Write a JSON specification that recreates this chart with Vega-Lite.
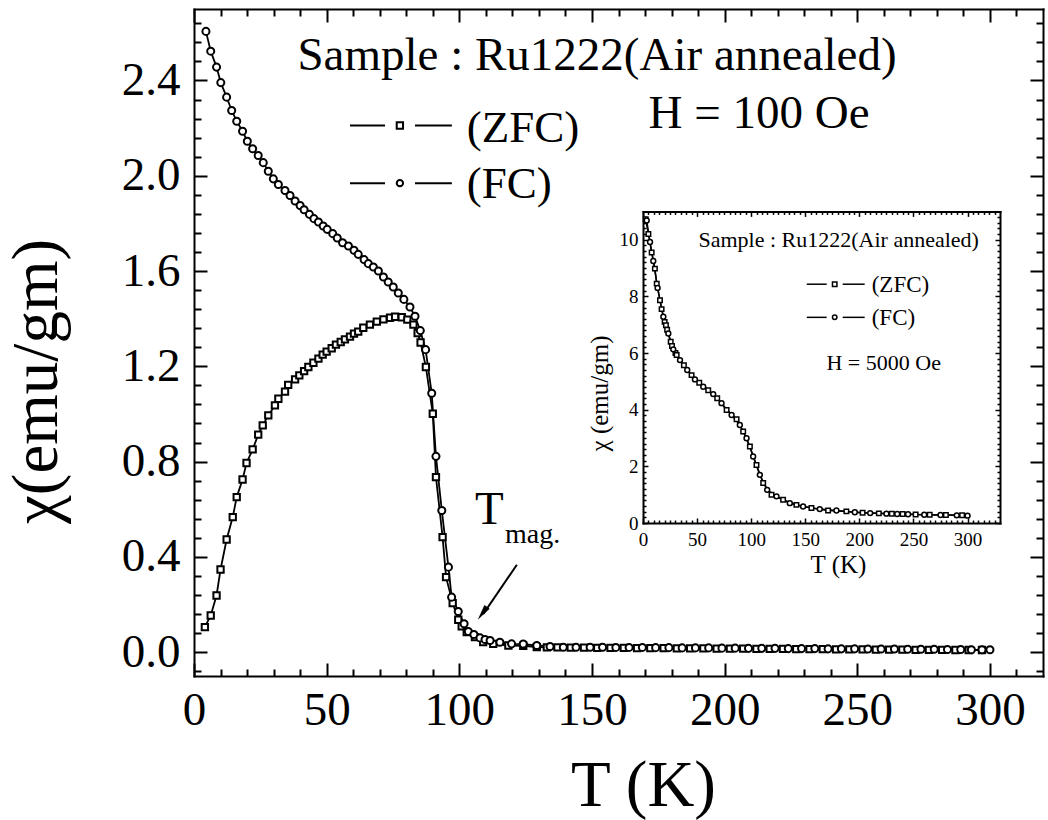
{
"$schema": "https://vega.github.io/schema/vega-lite/v6.json",
"width": 849, "height": 667,
"autosize": {"type": "none"},
"padding": {"left": 194, "top": 9, "right": 5, "bottom": 144},
"background": "white",
"config": {"view": {"stroke": null}, "axis": {"grid": false}, "font": "Liberation Serif"},
"datasets": {
"one": [{}],
"main": [
{"T":4.1,"chi":0.105,"s":"ZFC"},{"T":6.3,"chi":0.154,"s":"ZFC"},{"T":8.5,"chi":0.238,"s":"ZFC"},{"T":10.0,"chi":0.347,"s":"ZFC"},{"T":12.3,"chi":0.473,"s":"ZFC"},{"T":14.6,"chi":0.567,"s":"ZFC"},{"T":16.1,"chi":0.651,"s":"ZFC"},{"T":18.3,"chi":0.725,"s":"ZFC"},{"T":19.8,"chi":0.794,"s":"ZFC"},{"T":22.1,"chi":0.851,"s":"ZFC"},{"T":24.2,"chi":0.913,"s":"ZFC"},{"T":25.9,"chi":0.952,"s":"ZFC"},{"T":28.0,"chi":0.994,"s":"ZFC"},{"T":30.5,"chi":1.036,"s":"ZFC"},{"T":31.8,"chi":1.064,"s":"ZFC"},{"T":34.3,"chi":1.094,"s":"ZFC"},{"T":35.5,"chi":1.122,"s":"ZFC"},{"T":38.1,"chi":1.145,"s":"ZFC"},{"T":39.7,"chi":1.162,"s":"ZFC"},{"T":41.5,"chi":1.180,"s":"ZFC"},{"T":43.1,"chi":1.197,"s":"ZFC"},{"T":45.0,"chi":1.215,"s":"ZFC"},{"T":46.9,"chi":1.232,"s":"ZFC"},{"T":48.5,"chi":1.249,"s":"ZFC"},{"T":50.0,"chi":1.262,"s":"ZFC"},{"T":51.9,"chi":1.276,"s":"ZFC"},{"T":53.5,"chi":1.291,"s":"ZFC"},{"T":55.3,"chi":1.302,"s":"ZFC"},{"T":56.9,"chi":1.313,"s":"ZFC"},{"T":58.8,"chi":1.325,"s":"ZFC"},{"T":60.3,"chi":1.337,"s":"ZFC"},{"T":61.9,"chi":1.346,"s":"ZFC"},{"T":63.8,"chi":1.362,"s":"ZFC"},{"T":66.3,"chi":1.375,"s":"ZFC"},{"T":68.9,"chi":1.388,"s":"ZFC"},{"T":71.4,"chi":1.397,"s":"ZFC"},{"T":73.9,"chi":1.404,"s":"ZFC"},{"T":75.8,"chi":1.408,"s":"ZFC"},{"T":78.3,"chi":1.406,"s":"ZFC"},{"T":80.4,"chi":1.396,"s":"ZFC"},{"T":82.7,"chi":1.375,"s":"ZFC"},{"T":84.3,"chi":1.340,"s":"ZFC"},{"T":85.4,"chi":1.300,"s":"ZFC"},{"T":87.4,"chi":1.197,"s":"ZFC"},{"T":90.0,"chi":1.001,"s":"ZFC"},{"T":91.2,"chi":0.735,"s":"ZFC"},{"T":93.7,"chi":0.483,"s":"ZFC"},{"T":95.0,"chi":0.315,"s":"ZFC"},{"T":97.5,"chi":0.206,"s":"ZFC"},{"T":99.6,"chi":0.136,"s":"ZFC"},{"T":100.9,"chi":0.108,"s":"ZFC"},{"T":102.8,"chi":0.084,"s":"ZFC"},{"T":105.9,"chi":0.063,"s":"ZFC"},{"T":109.0,"chi":0.042,"s":"ZFC"},{"T":112.8,"chi":0.035,"s":"ZFC"},{"T":118.5,"chi":0.028,"s":"ZFC"},{"T":124.1,"chi":0.027,"s":"ZFC"},{"T":129.2,"chi":0.021,"s":"ZFC"},{"T":133,"chi":0.020,"s":"ZFC"},{"T":137,"chi":0.020,"s":"ZFC"},{"T":142,"chi":0.019,"s":"ZFC"},{"T":147,"chi":0.019,"s":"ZFC"},{"T":152,"chi":0.018,"s":"ZFC"},{"T":157,"chi":0.018,"s":"ZFC"},{"T":162,"chi":0.018,"s":"ZFC"},{"T":167,"chi":0.017,"s":"ZFC"},{"T":172,"chi":0.017,"s":"ZFC"},{"T":177,"chi":0.017,"s":"ZFC"},{"T":182,"chi":0.016,"s":"ZFC"},{"T":187,"chi":0.016,"s":"ZFC"},{"T":192,"chi":0.016,"s":"ZFC"},{"T":197,"chi":0.015,"s":"ZFC"},{"T":202,"chi":0.015,"s":"ZFC"},{"T":207,"chi":0.015,"s":"ZFC"},{"T":212,"chi":0.014,"s":"ZFC"},{"T":217,"chi":0.014,"s":"ZFC"},{"T":222,"chi":0.014,"s":"ZFC"},{"T":227,"chi":0.013,"s":"ZFC"},{"T":232,"chi":0.013,"s":"ZFC"},{"T":237,"chi":0.013,"s":"ZFC"},{"T":242,"chi":0.012,"s":"ZFC"},{"T":247,"chi":0.012,"s":"ZFC"},{"T":252,"chi":0.012,"s":"ZFC"},{"T":257,"chi":0.011,"s":"ZFC"},{"T":262,"chi":0.011,"s":"ZFC"},{"T":267,"chi":0.011,"s":"ZFC"},{"T":272,"chi":0.010,"s":"ZFC"},{"T":277,"chi":0.010,"s":"ZFC"},{"T":282,"chi":0.010,"s":"ZFC"},{"T":287,"chi":0.009,"s":"ZFC"},{"T":292,"chi":0.009,"s":"ZFC"},{"T":297,"chi":0.009,"s":"ZFC"},
{"T":4.5,"chi":2.606,"s":"FC"},{"T":6.3,"chi":2.523,"s":"FC"},{"T":8.5,"chi":2.456,"s":"FC"},{"T":10.1,"chi":2.391,"s":"FC"},{"T":12.3,"chi":2.330,"s":"FC"},{"T":14.2,"chi":2.274,"s":"FC"},{"T":16.1,"chi":2.229,"s":"FC"},{"T":18.3,"chi":2.187,"s":"FC"},{"T":20.1,"chi":2.145,"s":"FC"},{"T":22.1,"chi":2.113,"s":"FC"},{"T":24.2,"chi":2.085,"s":"FC"},{"T":26.1,"chi":2.055,"s":"FC"},{"T":28.0,"chi":2.019,"s":"FC"},{"T":29.9,"chi":1.987,"s":"FC"},{"T":31.8,"chi":1.963,"s":"FC"},{"T":34.3,"chi":1.938,"s":"FC"},{"T":36.2,"chi":1.917,"s":"FC"},{"T":38.1,"chi":1.894,"s":"FC"},{"T":40.0,"chi":1.875,"s":"FC"},{"T":41.5,"chi":1.857,"s":"FC"},{"T":43.5,"chi":1.838,"s":"FC"},{"T":45.2,"chi":1.820,"s":"FC"},{"T":46.9,"chi":1.806,"s":"FC"},{"T":48.7,"chi":1.789,"s":"FC"},{"T":50.2,"chi":1.775,"s":"FC"},{"T":52.3,"chi":1.757,"s":"FC"},{"T":54.0,"chi":1.739,"s":"FC"},{"T":56.0,"chi":1.719,"s":"FC"},{"T":58.2,"chi":1.705,"s":"FC"},{"T":60.3,"chi":1.687,"s":"FC"},{"T":61.9,"chi":1.670,"s":"FC"},{"T":64.1,"chi":1.648,"s":"FC"},{"T":65.7,"chi":1.631,"s":"FC"},{"T":67.6,"chi":1.617,"s":"FC"},{"T":69.5,"chi":1.600,"s":"FC"},{"T":71.4,"chi":1.575,"s":"FC"},{"T":73.2,"chi":1.554,"s":"FC"},{"T":75.1,"chi":1.533,"s":"FC"},{"T":77.0,"chi":1.508,"s":"FC"},{"T":79.1,"chi":1.481,"s":"FC"},{"T":81.4,"chi":1.449,"s":"FC"},{"T":83.3,"chi":1.410,"s":"FC"},{"T":85.3,"chi":1.350,"s":"FC"},{"T":87.3,"chi":1.270,"s":"FC"},{"T":89.6,"chi":1.087,"s":"FC"},{"T":91.2,"chi":0.822,"s":"FC"},{"T":93.4,"chi":0.595,"s":"FC"},{"T":95.9,"chi":0.357,"s":"FC"},{"T":97.1,"chi":0.231,"s":"FC"},{"T":99.6,"chi":0.171,"s":"FC"},{"T":101.8,"chi":0.119,"s":"FC"},{"T":103.4,"chi":0.087,"s":"FC"},{"T":105.5,"chi":0.074,"s":"FC"},{"T":107.8,"chi":0.060,"s":"FC"},{"T":109.7,"chi":0.053,"s":"FC"},{"T":111.6,"chi":0.049,"s":"FC"},{"T":115.3,"chi":0.042,"s":"FC"},{"T":119.7,"chi":0.035,"s":"FC"},{"T":124.1,"chi":0.034,"s":"FC"},{"T":129.2,"chi":0.028,"s":"FC"},{"T":134.2,"chi":0.024,"s":"FC"},{"T":139.2,"chi":0.021,"s":"FC"},{"T":144.0,"chi":0.021,"s":"FC"},{"T":149.3,"chi":0.021,"s":"FC"},{"T":154,"chi":0.021,"s":"FC"},{"T":159,"chi":0.020,"s":"FC"},{"T":164,"chi":0.020,"s":"FC"},{"T":169,"chi":0.020,"s":"FC"},{"T":174,"chi":0.019,"s":"FC"},{"T":179,"chi":0.019,"s":"FC"},{"T":184,"chi":0.018,"s":"FC"},{"T":189,"chi":0.018,"s":"FC"},{"T":194,"chi":0.018,"s":"FC"},{"T":199,"chi":0.017,"s":"FC"},{"T":204,"chi":0.017,"s":"FC"},{"T":209,"chi":0.016,"s":"FC"},{"T":214,"chi":0.016,"s":"FC"},{"T":219,"chi":0.016,"s":"FC"},{"T":224,"chi":0.015,"s":"FC"},{"T":229,"chi":0.015,"s":"FC"},{"T":234,"chi":0.015,"s":"FC"},{"T":239,"chi":0.014,"s":"FC"},{"T":244,"chi":0.014,"s":"FC"},{"T":249,"chi":0.014,"s":"FC"},{"T":254,"chi":0.013,"s":"FC"},{"T":259,"chi":0.013,"s":"FC"},{"T":264,"chi":0.013,"s":"FC"},{"T":269,"chi":0.012,"s":"FC"},{"T":274,"chi":0.012,"s":"FC"},{"T":279,"chi":0.012,"s":"FC"},{"T":284,"chi":0.011,"s":"FC"},{"T":289,"chi":0.011,"s":"FC"},{"T":293,"chi":0.010,"s":"FC"},{"T":297,"chi":0.010,"s":"FC"},{"T":300,"chi":0.010,"s":"FC"}
],
"inset": [
{"T":2.5,"chi":10.72,"s":"ZFC"},{"T":5.0,"chi":10.2,"s":"ZFC"},{"T":8.0,"chi":9.55,"s":"ZFC"},{"T":11.0,"chi":8.98,"s":"ZFC"},{"T":12.7,"chi":8.45,"s":"ZFC"},{"T":15.7,"chi":7.86,"s":"ZFC"},{"T":17.2,"chi":7.55,"s":"ZFC"},{"T":20.0,"chi":7.10,"s":"ZFC"},{"T":21.2,"chi":6.98,"s":"ZFC"},{"T":22.3,"chi":6.82,"s":"ZFC"},{"T":25.6,"chi":6.40,"s":"ZFC"},{"T":26.8,"chi":6.25,"s":"ZFC"},{"T":30.0,"chi":6.00,"s":"ZFC"},{"T":31.1,"chi":5.93,"s":"ZFC"},{"T":37.8,"chi":5.57,"s":"ZFC"},{"T":44.9,"chi":5.22,"s":"ZFC"},{"T":52.0,"chi":4.95,"s":"ZFC"},{"T":60.3,"chi":4.69,"s":"ZFC"},{"T":68.6,"chi":4.40,"s":"ZFC"},{"T":77.3,"chi":3.99,"s":"ZFC"},{"T":86.5,"chi":3.66,"s":"ZFC"},{"T":92.6,"chi":3.23,"s":"ZFC"},{"T":98.8,"chi":2.70,"s":"ZFC"},{"T":104.9,"chi":2.05,"s":"ZFC"},{"T":111.1,"chi":1.41,"s":"ZFC"},{"T":118.8,"chi":1.00,"s":"ZFC"},{"T":129.5,"chi":0.82,"s":"ZFC"},{"T":141.8,"chi":0.64,"s":"ZFC"},{"T":155.7,"chi":0.53,"s":"ZFC"},{"T":171.1,"chi":0.44,"s":"ZFC"},{"T":188,"chi":0.41,"s":"ZFC"},{"T":203,"chi":0.36,"s":"ZFC"},{"T":218,"chi":0.34,"s":"ZFC"},{"T":230,"chi":0.33,"s":"ZFC"},{"T":240,"chi":0.32,"s":"ZFC"},{"T":252,"chi":0.30,"s":"ZFC"},{"T":265,"chi":0.29,"s":"ZFC"},{"T":280,"chi":0.28,"s":"ZFC"},{"T":295,"chi":0.27,"s":"ZFC"},
{"T":3.4,"chi":10.68,"s":"FC"},{"T":6.5,"chi":9.92,"s":"FC"},{"T":9.5,"chi":9.25,"s":"FC"},{"T":13.5,"chi":8.30,"s":"FC"},{"T":18.8,"chi":7.28,"s":"FC"},{"T":23.4,"chi":6.69,"s":"FC"},{"T":28.0,"chi":6.13,"s":"FC"},{"T":34.2,"chi":5.75,"s":"FC"},{"T":40.9,"chi":5.40,"s":"FC"},{"T":48.0,"chi":5.07,"s":"FC"},{"T":55.7,"chi":4.81,"s":"FC"},{"T":64.9,"chi":4.55,"s":"FC"},{"T":72.6,"chi":4.23,"s":"FC"},{"T":81.9,"chi":3.81,"s":"FC"},{"T":89.5,"chi":3.46,"s":"FC"},{"T":95.7,"chi":2.99,"s":"FC"},{"T":101.8,"chi":2.35,"s":"FC"},{"T":108.0,"chi":1.70,"s":"FC"},{"T":114.8,"chi":1.17,"s":"FC"},{"T":123.4,"chi":0.94,"s":"FC"},{"T":135.7,"chi":0.70,"s":"FC"},{"T":148.0,"chi":0.58,"s":"FC"},{"T":163.4,"chi":0.49,"s":"FC"},{"T":178.8,"chi":0.44,"s":"FC"},{"T":195.8,"chi":0.38,"s":"FC"},{"T":210,"chi":0.35,"s":"FC"},{"T":225,"chi":0.33,"s":"FC"},{"T":235,"chi":0.32,"s":"FC"},{"T":245,"chi":0.31,"s":"FC"},{"T":260,"chi":0.29,"s":"FC"},{"T":275,"chi":0.28,"s":"FC"},{"T":290,"chi":0.27,"s":"FC"},{"T":300,"chi":0.26,"s":"FC"}
]
},
"layer": [
{
"layer": [
{"data": {"name": "main"}, "transform": [{"filter": "datum.s == 'ZFC'"}],
 "mark": {"type": "line", "color": "black", "strokeWidth": 1.8},
 "encoding": {
  "x": {"field": "T", "type": "quantitative", "scale": {"domain": [0, 320], "nice": false, "zero": false},
   "axis": {"orient": "bottom", "values": [0,50,100,150,200,250,300], "format": "d", "tickSize": -13, "tickWidth": 2, "tickColor": "black", "domainWidth": 2, "domainColor": "black", "domainCap": "square", "labelFont": "Liberation Serif", "labelFontSize": 47, "labelColor": "black", "labelPadding": 24.6, "labelFlush": false, "labelOverlap": false, "title": "T (K)", "titleFont": "Liberation Serif", "titleFontSize": 65, "titleFontWeight": "normal", "titleColor": "black", "titleX": 449, "titleY": 129, "titleAlign": "center", "titleBaseline": "alphabetic"}},
  "y": {"field": "chi", "type": "quantitative", "scale": {"domain": [-0.1, 2.7], "nice": false, "zero": false},
   "axis": {"orient": "left", "values": [0,0.4,0.8,1.2,1.6,2.0,2.4], "format": ".1f", "tickSize": -13, "tickWidth": 2, "tickColor": "black", "domainWidth": 2, "domainColor": "black", "domainCap": "square", "labelFont": "Liberation Serif", "labelFontSize": 47, "labelColor": "black", "labelPadding": 27, "labelFlush": false, "labelOverlap": false, "title": "χ(emu/gm)", "titleFont": "Liberation Serif", "titleFontSize": 65, "titleFontWeight": "normal", "titleColor": "black", "titleX": -138, "titleY": 372, "titleAngle": 270, "titleAlign": "center", "titleBaseline": "alphabetic"}}
 }},
{"data": {"name": "main"}, "transform": [{"filter": "datum.s == 'FC'"}],
 "mark": {"type": "line", "color": "black", "strokeWidth": 1.8},
 "encoding": {
  "x": {"field": "T", "type": "quantitative", "scale": {"domain": [0, 320], "nice": false, "zero": false},
   "axis": {"orient": "bottom", "values": [10,20,30,40,60,70,80,90,110,120,130,140,160,170,180,190,210,220,230,240,260,270,280,290,310], "tickSize": -7, "tickWidth": 2, "tickColor": "black", "domain": false, "labels": false, "title": null}},
  "y": {"field": "chi", "type": "quantitative", "scale": {"domain": [-0.1, 2.7], "nice": false, "zero": false},
   "axis": {"orient": "left", "values": [-0.08,0.08,0.16,0.24,0.32,0.48,0.56,0.64,0.72,0.88,0.96,1.04,1.12,1.28,1.36,1.44,1.52,1.68,1.76,1.84,1.92,2.08,2.16,2.24,2.32,2.48,2.56,2.64], "tickSize": -7, "tickWidth": 2, "tickColor": "black", "domain": false, "labels": false, "title": null}}
 }},
{"data": {"name": "main"}, "transform": [{"filter": "datum.s == 'ZFC'"}],
 "mark": {"type": "point", "shape": "square", "size": 40, "filled": true, "fill": "white", "stroke": "black", "strokeWidth": 2, "opacity": 1},
 "encoding": {
  "x": {"field": "T", "type": "quantitative", "scale": {"domain": [0, 320], "nice": false, "zero": false},
   "axis": {"orient": "top", "values": [0,50,100,150,200,250,300], "tickSize": -13, "tickWidth": 2, "tickColor": "black", "domainWidth": 2, "domainColor": "black", "domainCap": "square", "labels": false, "title": null}},
  "y": {"field": "chi", "type": "quantitative", "scale": {"domain": [-0.1, 2.7], "nice": false, "zero": false},
   "axis": {"orient": "right", "values": [0,0.4,0.8,1.2,1.6,2.0,2.4], "tickSize": -13, "tickWidth": 2, "tickColor": "black", "domainWidth": 2, "domainColor": "black", "domainCap": "square", "labels": false, "title": null}}
 }},
{"data": {"name": "main"}, "transform": [{"filter": "datum.s == 'FC'"}],
 "mark": {"type": "point", "shape": "circle", "size": 50, "filled": true, "fill": "white", "stroke": "black", "strokeWidth": 2, "opacity": 1},
 "encoding": {
  "x": {"field": "T", "type": "quantitative", "scale": {"domain": [0, 320], "nice": false, "zero": false},
   "axis": {"orient": "top", "values": [10,20,30,40,60,70,80,90,110,120,130,140,160,170,180,190,210,220,230,240,260,270,280,290,310], "tickSize": -7, "tickWidth": 2, "tickColor": "black", "domain": false, "labels": false, "title": null}},
  "y": {"field": "chi", "type": "quantitative", "scale": {"domain": [-0.1, 2.7], "nice": false, "zero": false},
   "axis": {"orient": "right", "values": [-0.08,0.08,0.16,0.24,0.32,0.48,0.56,0.64,0.72,0.88,0.96,1.04,1.12,1.28,1.36,1.44,1.52,1.68,1.76,1.84,1.92,2.08,2.16,2.24,2.32,2.48,2.56,2.64], "tickSize": -7, "tickWidth": 2, "tickColor": "black", "domain": false, "labels": false, "title": null}}
 }},
{"data": {"name": "one"}, "mark": {"type": "text", "text": "Sample : Ru1222(Air annealed)", "font": "Liberation Serif", "fontSize": 47, "align": "center", "baseline": "alphabetic", "color": "black"},
 "encoding": {"x": {"datum": 151.9, "type": "quantitative", "axis": null}, "y": {"datum": 2.442, "type": "quantitative", "axis": null}}},
{"data": {"name": "one"}, "mark": {"type": "text", "text": "H = 100 Oe", "font": "Liberation Serif", "fontSize": 47, "align": "center", "baseline": "alphabetic", "color": "black"},
 "encoding": {"x": {"datum": 213.0, "type": "quantitative", "axis": null}, "y": {"datum": 2.199, "type": "quantitative", "axis": null}}},
{"data": {"name": "one"}, "mark": {"type": "rule", "color": "black", "strokeWidth": 2},
 "encoding": {"x": {"datum": 58.8, "type": "quantitative", "axis": null}, "x2": {"datum": 72.0}, "y": {"datum": 2.211, "type": "quantitative", "axis": null}}},
{"data": {"name": "one"}, "mark": {"type": "rule", "color": "black", "strokeWidth": 2},
 "encoding": {"x": {"datum": 83.3, "type": "quantitative", "axis": null}, "x2": {"datum": 97.2}, "y": {"datum": 2.211, "type": "quantitative", "axis": null}}},
{"data": {"name": "one"}, "mark": {"type": "point", "shape": "square", "size": 40, "filled": true, "fill": "white", "stroke": "black", "strokeWidth": 2, "opacity": 1},
 "encoding": {"x": {"datum": 77.6, "type": "quantitative", "axis": null}, "y": {"datum": 2.211, "type": "quantitative", "axis": null}}},
{"data": {"name": "one"}, "mark": {"type": "text", "text": "(ZFC)", "font": "Liberation Serif", "fontSize": 45, "align": "left", "baseline": "alphabetic", "color": "black"},
 "encoding": {"x": {"datum": 102.8, "type": "quantitative", "axis": null}, "y": {"datum": 2.141, "type": "quantitative", "axis": null}}},
{"data": {"name": "one"}, "mark": {"type": "rule", "color": "black", "strokeWidth": 2},
 "encoding": {"x": {"datum": 58.8, "type": "quantitative", "axis": null}, "x2": {"datum": 72.0}, "y": {"datum": 1.969, "type": "quantitative", "axis": null}}},
{"data": {"name": "one"}, "mark": {"type": "rule", "color": "black", "strokeWidth": 2},
 "encoding": {"x": {"datum": 83.3, "type": "quantitative", "axis": null}, "x2": {"datum": 97.2}, "y": {"datum": 1.969, "type": "quantitative", "axis": null}}},
{"data": {"name": "one"}, "mark": {"type": "point", "shape": "circle", "size": 40, "filled": true, "fill": "white", "stroke": "black", "strokeWidth": 2, "opacity": 1},
 "encoding": {"x": {"datum": 77.6, "type": "quantitative", "axis": null}, "y": {"datum": 1.969, "type": "quantitative", "axis": null}}},
{"data": {"name": "one"}, "mark": {"type": "text", "text": "(FC)", "font": "Liberation Serif", "fontSize": 45, "align": "left", "baseline": "alphabetic", "color": "black"},
 "encoding": {"x": {"datum": 102.8, "type": "quantitative", "axis": null}, "y": {"datum": 1.905, "type": "quantitative", "axis": null}}},
{"data": {"name": "one"}, "mark": {"type": "text", "text": "T", "font": "Liberation Serif", "fontSize": 47, "align": "left", "baseline": "alphabetic", "color": "black"},
 "encoding": {"x": {"datum": 105.9, "type": "quantitative", "axis": null}, "y": {"datum": 0.540, "type": "quantitative", "axis": null}}},
{"data": {"name": "one"}, "mark": {"type": "text", "text": "mag.", "font": "Liberation Serif", "fontSize": 28, "align": "left", "baseline": "alphabetic", "color": "black"},
 "encoding": {"x": {"datum": 117.2, "type": "quantitative", "axis": null}, "y": {"datum": 0.460, "type": "quantitative", "axis": null}}},
{"data": {"name": "one"}, "mark": {"type": "rule", "color": "black", "strokeWidth": 2},
 "encoding": {"x": {"datum": 121.7, "type": "quantitative", "axis": null}, "y": {"datum": 0.367, "type": "quantitative", "axis": null}, "x2": {"datum": 109.0}, "y2": {"datum": 0.160}}},
{"data": {"name": "one"}, "mark": {"type": "point", "shape": "M0,-1L0.4,1L-0.4,1Z", "size": 256, "angle": 215.4, "filled": true, "color": "black", "opacity": 1},
 "encoding": {"x": {"datum": 108.7, "type": "quantitative", "axis": null}, "y": {"datum": 0.163, "type": "quantitative", "axis": null}}}
],
"resolve": {"axis": {"x": "independent", "y": "independent"}}
},
{
"layer": [
{"data": {"name": "inset"}, "transform": [{"filter": "datum.s == 'ZFC'"}],
 "mark": {"type": "line", "color": "black", "strokeWidth": 1.5},
 "encoding": {
  "x": {"field": "T", "type": "quantitative", "scale": {"domain": [0, 330], "range": [449, 806], "nice": false, "zero": false},
   "axis": {"orient": "bottom", "offset": -153, "values": [0,50,100,150,200,250,300], "format": "d", "tickSize": -5, "tickWidth": 1.5, "tickColor": "black", "domainWidth": 2, "domainColor": "black", "domainCap": "square", "labelFont": "Liberation Serif", "labelFontSize": 19, "labelColor": "black", "labelPadding": 12.8, "labelFlush": false, "labelOverlap": false, "title": "T (K)", "titleFont": "Liberation Serif", "titleFontSize": 25, "titleFontWeight": "normal", "titleColor": "black", "titleX": 644, "titleY": 49, "titleAlign": "center", "titleBaseline": "alphabetic"}},
  "y": {"field": "chi", "type": "quantitative", "scale": {"domain": [0, 11], "range": [514, 202.4], "nice": false, "zero": false},
   "axis": {"orient": "left", "offset": -449, "values": [0,2,4,6,8,10], "format": "d", "tickSize": -5, "tickWidth": 1.5, "tickColor": "black", "domainWidth": 2, "domainColor": "black", "domainCap": "square", "labelFont": "Liberation Serif", "labelFontSize": 19, "labelColor": "black", "labelPadding": 10, "labelFlush": false, "labelOverlap": false, "title": "χ (emu/gm)", "titleFont": "Liberation Serif", "titleFontSize": 25, "titleFontWeight": "normal", "titleColor": "black", "titleX": -35.5, "titleY": 384, "titleAngle": 270, "titleAlign": "center", "titleBaseline": "alphabetic"}}
 }},
{"data": {"name": "inset"}, "transform": [{"filter": "datum.s == 'FC'"}],
 "mark": {"type": "line", "color": "black", "strokeWidth": 1.5},
 "encoding": {
  "x": {"field": "T", "type": "quantitative", "scale": {"domain": [0, 330], "range": [449, 806], "nice": false, "zero": false},
   "axis": {"orient": "bottom", "offset": -153, "values": [5,10,15,20,25,30,35,40,45,55,60,65,70,75,80,85,90,95,105,110,115,120,125,130,135,140,145,155,160,165,170,175,180,185,190,195,205,210,215,220,225,230,235,240,245,255,260,265,270,275,280,285,290,295,305,310,315,320,325], "tickSize": -3, "tickWidth": 1.5, "tickColor": "black", "domain": false, "labels": false, "title": null}},
  "y": {"field": "chi", "type": "quantitative", "scale": {"domain": [0, 11], "range": [514, 202.4], "nice": false, "zero": false},
   "axis": {"orient": "left", "offset": -449, "values": [0.2,0.4,0.6,0.8,1,1.2,1.4,1.6,1.8,2.2,2.4,2.6,2.8,3,3.2,3.4,3.6,3.8,4.2,4.4,4.6,4.8,5,5.2,5.4,5.6,5.8,6.2,6.4,6.6,6.8,7,7.2,7.4,7.6,7.8,8.2,8.4,8.6,8.8,9,9.2,9.4,9.6,9.8,10.2,10.4,10.6,10.8], "tickSize": -3, "tickWidth": 1.5, "tickColor": "black", "domain": false, "labels": false, "title": null}}
 }},
{"data": {"name": "inset"}, "transform": [{"filter": "datum.s == 'ZFC'"}],
 "mark": {"type": "point", "shape": "square", "size": 20, "filled": true, "fill": "white", "stroke": "black", "strokeWidth": 1.5, "opacity": 1},
 "encoding": {
  "x": {"field": "T", "type": "quantitative", "scale": {"domain": [0, 330], "range": [449, 806], "nice": false, "zero": false},
   "axis": {"orient": "top", "offset": -202.4, "values": [0,50,100,150,200,250,300], "tickSize": -5, "tickWidth": 1.5, "tickColor": "black", "domainWidth": 2, "domainColor": "black", "domainCap": "square", "labels": false, "title": null}},
  "y": {"field": "chi", "type": "quantitative", "scale": {"domain": [0, 11], "range": [514, 202.4], "nice": false, "zero": false},
   "axis": {"orient": "right", "offset": -43, "values": [0,2,4,6,8,10], "tickSize": -5, "tickWidth": 1.5, "tickColor": "black", "domainWidth": 2, "domainColor": "black", "domainCap": "square", "labels": false, "title": null}}
 }},
{"data": {"name": "inset"}, "transform": [{"filter": "datum.s == 'FC'"}],
 "mark": {"type": "point", "shape": "circle", "size": 24, "filled": true, "fill": "white", "stroke": "black", "strokeWidth": 1.5, "opacity": 1},
 "encoding": {
  "x": {"field": "T", "type": "quantitative", "scale": {"domain": [0, 330], "range": [449, 806], "nice": false, "zero": false},
   "axis": {"orient": "top", "offset": -202.4, "values": [5,10,15,20,25,30,35,40,45,55,60,65,70,75,80,85,90,95,105,110,115,120,125,130,135,140,145,155,160,165,170,175,180,185,190,195,205,210,215,220,225,230,235,240,245,255,260,265,270,275,280,285,290,295,305,310,315,320,325], "tickSize": -3, "tickWidth": 1.5, "tickColor": "black", "domain": false, "labels": false, "title": null}},
  "y": {"field": "chi", "type": "quantitative", "scale": {"domain": [0, 11], "range": [514, 202.4], "nice": false, "zero": false},
   "axis": {"orient": "right", "offset": -43, "values": [0.2,0.4,0.6,0.8,1,1.2,1.4,1.6,1.8,2.2,2.4,2.6,2.8,3,3.2,3.4,3.6,3.8,4.2,4.4,4.6,4.8,5,5.2,5.4,5.6,5.8,6.2,6.4,6.6,6.8,7,7.2,7.4,7.6,7.8,8.2,8.4,8.6,8.8,9,9.2,9.4,9.6,9.8,10.2,10.4,10.6,10.8], "tickSize": -3, "tickWidth": 1.5, "tickColor": "black", "domain": false, "labels": false, "title": null}}
 }},
{"data": {"name": "one"}, "mark": {"type": "text", "text": "Sample : Ru1222(Air annealed)", "font": "Liberation Serif", "fontSize": 22, "align": "center", "baseline": "alphabetic", "color": "black"},
 "encoding": {"x": {"datum": 180.9, "type": "quantitative", "axis": null}, "y": {"datum": 9.73, "type": "quantitative", "axis": null}}},
{"data": {"name": "one"}, "mark": {"type": "text", "text": "H = 5000 Oe", "font": "Liberation Serif", "fontSize": 22, "align": "center", "baseline": "alphabetic", "color": "black"},
 "encoding": {"x": {"datum": 222.5, "type": "quantitative", "axis": null}, "y": {"datum": 5.40, "type": "quantitative", "axis": null}}},
{"data": {"name": "one"}, "mark": {"type": "rule", "color": "black", "strokeWidth": 1.5},
 "encoding": {"x": {"datum": 151.4, "type": "quantitative", "axis": null}, "x2": {"datum": 169.8}, "y": {"datum": 8.43, "type": "quantitative", "axis": null}}},
{"data": {"name": "one"}, "mark": {"type": "rule", "color": "black", "strokeWidth": 1.5},
 "encoding": {"x": {"datum": 184.6, "type": "quantitative", "axis": null}, "x2": {"datum": 204.9}, "y": {"datum": 8.43, "type": "quantitative", "axis": null}}},
{"data": {"name": "one"}, "mark": {"type": "point", "shape": "square", "size": 20, "filled": true, "fill": "white", "stroke": "black", "strokeWidth": 1.5, "opacity": 1},
 "encoding": {"x": {"datum": 177.2, "type": "quantitative", "axis": null}, "y": {"datum": 8.43, "type": "quantitative", "axis": null}}},
{"data": {"name": "one"}, "mark": {"type": "text", "text": "(ZFC)", "font": "Liberation Serif", "fontSize": 23, "align": "left", "baseline": "alphabetic", "color": "black"},
 "encoding": {"x": {"datum": 211.4, "type": "quantitative", "axis": null}, "y": {"datum": 8.15, "type": "quantitative", "axis": null}}},
{"data": {"name": "one"}, "mark": {"type": "rule", "color": "black", "strokeWidth": 1.5},
 "encoding": {"x": {"datum": 151.4, "type": "quantitative", "axis": null}, "x2": {"datum": 169.8}, "y": {"datum": 7.26, "type": "quantitative", "axis": null}}},
{"data": {"name": "one"}, "mark": {"type": "rule", "color": "black", "strokeWidth": 1.5},
 "encoding": {"x": {"datum": 184.6, "type": "quantitative", "axis": null}, "x2": {"datum": 204.9}, "y": {"datum": 7.26, "type": "quantitative", "axis": null}}},
{"data": {"name": "one"}, "mark": {"type": "point", "shape": "circle", "size": 20, "filled": true, "fill": "white", "stroke": "black", "strokeWidth": 1.5, "opacity": 1},
 "encoding": {"x": {"datum": 177.2, "type": "quantitative", "axis": null}, "y": {"datum": 7.26, "type": "quantitative", "axis": null}}},
{"data": {"name": "one"}, "mark": {"type": "text", "text": "(FC)", "font": "Liberation Serif", "fontSize": 23, "align": "left", "baseline": "alphabetic", "color": "black"},
 "encoding": {"x": {"datum": 211.4, "type": "quantitative", "axis": null}, "y": {"datum": 6.98, "type": "quantitative", "axis": null}}}
],
"resolve": {"axis": {"x": "independent", "y": "independent"}}
}
],
"resolve": {"scale": {"x": "independent", "y": "independent"}}
}
